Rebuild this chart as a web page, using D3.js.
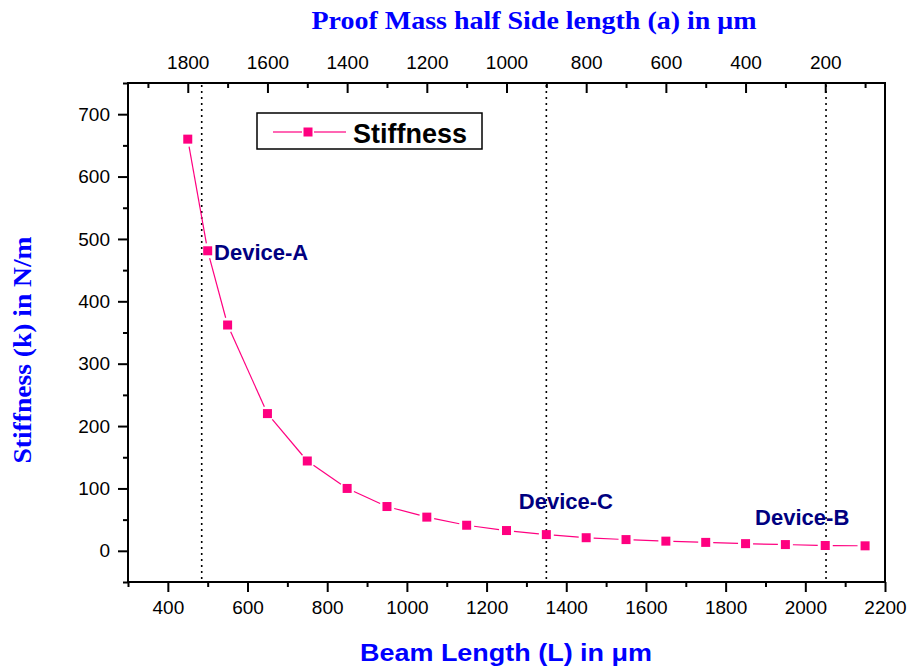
<!DOCTYPE html>
<html><head><meta charset="utf-8">
<script src="https://cdn.jsdelivr.net/npm/d3@7"></script>
<style>body{margin:0;background:#fff}</style>
</head><body>
<svg id="chart" width="911" height="671"></svg>
<script>
// Beam length (µm) vs. spring stiffness (N/m)
const beamLength = [450,500,550,650,750,850,950,1050,1150,1250,1350,1450,1550,1650,1750,1850,1950,2050,2150];
const stiffness  = [660,481,362,220,144,100,71,54,41,32.5,26,21,18,15.5,13.5,11.5,10,8.5,8];

// Tick values
const bottomTicks = [400,600,800,1000,1200,1400,1600,1800,2000,2200];
const bottomMinor = [300,500,700,900,1100,1300,1500,1700,1900,2100];
const topTicks = [1800,1600,1400,1200,1000,800,600,400,200];
const topMinor = [1900,1700,1500,1300,1100,900,700,500,300,100];
const leftTicks = [0,100,200,300,400,500,600,700];
const leftMinor = [-50,50,150,250,350,450,550,650,750];

// Device markers: beam length of each device and its label anchor (L, k)
const deviceNames = ["Device-A","Device-C","Device-B"];
const deviceL = [485,1350,2052];
const deviceLabelL = [516,1281,1874];
const deviceLabelK = [466,67,42];

const svg = d3.select("#chart");
const plotLeft = 128, plotRight = 885, plotTop = 83, plotBottom = 582;

const x = d3.scaleLinear().domain([300,2200]).range([plotLeft,plotRight]);
const xTop = d3.scaleLinear().domain([1950,50]).range([plotLeft,plotRight]);
const y = d3.scaleLinear().domain([-50,750]).range([plotBottom,plotTop]);

const pink = "#ff0080";
const sansFont = "Liberation Sans, Arial, sans-serif";
const serifFont = "Liberation Serif, Times New Roman, serif";

function styleAxis(g){
  g.select(".domain").remove();
  g.selectAll(".tick line").attr("stroke","#000").attr("stroke-width",2);
  g.selectAll(".tick text").attr("fill","#000").style("font-family",sansFont).style("font-size","19px");
}

// Bottom axis
svg.append("g").attr("transform",`translate(0,${plotBottom})`)
  .call(d3.axisBottom(x).tickValues(bottomMinor).tickSize(5).tickFormat("")).call(styleAxis);
svg.append("g").attr("transform",`translate(0,${plotBottom})`)
  .call(d3.axisBottom(x).tickValues(bottomTicks).tickSize(10).tickPadding(9).tickFormat(d3.format("d"))).call(styleAxis);

// Top axis (ticks inward)
svg.append("g").attr("transform",`translate(0,${plotTop})`)
  .call(d3.axisTop(xTop).tickValues(topMinor).tickSize(-5).tickFormat("")).call(styleAxis);
svg.append("g").attr("transform",`translate(0,${plotTop})`)
  .call(d3.axisTop(xTop).tickValues(topTicks).tickSize(-10).tickPadding(14).tickFormat(d3.format("d"))).call(styleAxis);

// Left axis
svg.append("g").attr("transform",`translate(${plotLeft},0)`)
  .call(d3.axisLeft(y).tickValues(leftMinor).tickSize(5).tickFormat("")).call(styleAxis);
svg.append("g").attr("transform",`translate(${plotLeft},0)`)
  .call(d3.axisLeft(y).tickValues(leftTicks).tickSize(10).tickPadding(8).tickFormat(d3.format("d"))).call(styleAxis);

// Frame
svg.append("rect").attr("x",plotLeft).attr("y",plotTop).attr("width",plotRight-plotLeft).attr("height",plotBottom-plotTop)
  .attr("fill","none").attr("stroke","#000").attr("stroke-width",2);

// Dotted device lines
svg.append("g").selectAll("line").data(deviceL).join("line")
  .attr("x1",d=>x(d)).attr("x2",d=>x(d)).attr("y1",plotTop+2).attr("y2",plotBottom-1)
  .attr("stroke","#000").attr("stroke-width",1.6).attr("stroke-dasharray","2,4");

// Connecting line, broken around each marker
const pts = beamLength.map((L,i)=>[x(L), y(stiffness[i])]);
const gap = 7.5;
const segs = [];
for(let i=0;i<pts.length-1;i++){
  const [x0,y0]=pts[i],[x1,y1]=pts[i+1];
  const dx=x1-x0, dy=y1-y0, d=Math.hypot(dx,dy);
  if(d>2*gap){
    const ux=dx/d, uy=dy/d;
    segs.push([x0+ux*gap,y0+uy*gap,x1-ux*gap,y1-uy*gap]);
  }
}
svg.append("g").selectAll("line").data(segs).join("line")
  .attr("x1",s=>s[0]).attr("y1",s=>s[1]).attr("x2",s=>s[2]).attr("y2",s=>s[3])
  .attr("stroke",pink).attr("stroke-width",1.2);

// Square markers
const ms = 9;
svg.append("g").selectAll("rect").data(pts).join("rect")
  .attr("x",p=>p[0]-ms/2).attr("y",p=>p[1]-ms/2).attr("width",ms).attr("height",ms)
  .attr("fill",pink);

// Device labels
svg.append("g").selectAll("text").data(deviceNames).join("text")
  .attr("x",(d,i)=>x(deviceLabelL[i])).attr("y",(d,i)=>y(deviceLabelK[i]))
  .attr("fill","#000080").style("font-family",sansFont).style("font-weight","bold").style("font-size","22px")
  .text(d=>d);

// Legend
const lg = svg.append("g");
lg.append("rect").attr("x",257).attr("y",113).attr("width",225).attr("height",36)
  .attr("fill","#fff").attr("stroke","#000").attr("stroke-width",1.5);
lg.append("line").attr("x1",273).attr("x2",302).attr("y1",132).attr("y2",132).attr("stroke",pink).attr("stroke-width",1.2);
lg.append("line").attr("x1",314).attr("x2",346).attr("y1",132).attr("y2",132).attr("stroke",pink).attr("stroke-width",1.2);
lg.append("rect").attr("x",308-ms/2).attr("y",132-ms/2).attr("width",ms).attr("height",ms).attr("fill",pink);
lg.append("text").attr("x",353).attr("y",143).text("Stiffness")
  .style("font-family",sansFont).style("font-weight","bold").style("font-size","27px").attr("fill","#000");

// Axis titles
svg.append("text").attr("x",506).attr("y",661).attr("text-anchor","middle")
  .attr("textLength",292).attr("lengthAdjust","spacingAndGlyphs")
  .style("font-family",sansFont).style("font-weight","bold").style("font-size","24px").attr("fill","#0000ff")
  .text("Beam Length (L) in μm");
svg.append("text").attr("x",534).attr("y",29).attr("text-anchor","middle")
  .attr("textLength",445).attr("lengthAdjust","spacingAndGlyphs")
  .style("font-family",serifFont).style("font-weight","bold").style("font-size","25px").attr("fill","#0000ff")
  .text("Proof Mass half Side length (a) in μm");
svg.append("text").attr("transform","translate(31,350) rotate(-90)").attr("text-anchor","middle")
  .attr("textLength",227).attr("lengthAdjust","spacingAndGlyphs")
  .style("font-family",serifFont).style("font-weight","bold").style("font-size","26px").attr("fill","#0000ff")
  .text("Stiffness (k) in N/m");
</script>
</body></html>
